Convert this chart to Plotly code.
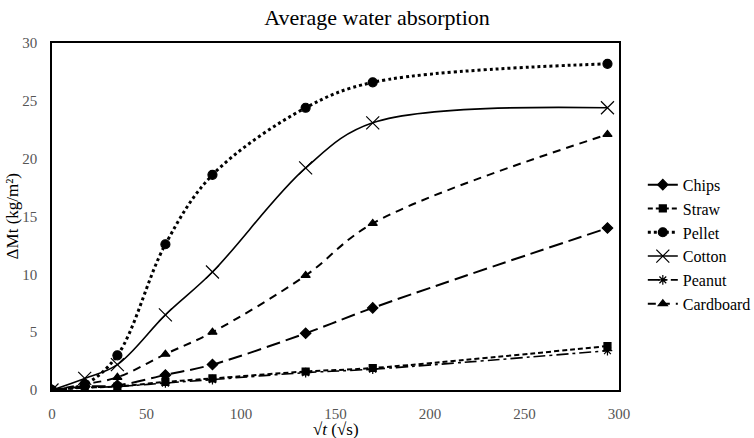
import plotly.graph_objects as go

x = [0, 17.3, 34.6, 60.0, 84.9, 134.2, 169.7, 293.9]
chips = [0, 0.3, 0.4, 1.3, 2.2, 4.9, 7.1, 14.0]
straw = [0, 0.2, 0.3, 0.7, 1.0, 1.6, 1.9, 3.8]
pellet = [0, 0.5, 3.0, 12.6, 18.6, 24.4, 26.6, 28.2]
cotton = [0, 1.0, 2.2, 6.5, 10.2, 19.2, 23.1, 24.4]
peanut = [0, 0.2, 0.3, 0.6, 0.9, 1.5, 1.8, 3.4]
cardboard = [0, 0.5, 1.1, 3.1, 5.0, 9.9, 14.4, 22.1]

series = [
    ("Chips", chips, "14px,6px", "diamond", 8, 2),
    ("Straw", straw, "5px,3px", "square", 7, 2),
    ("Pellet", pellet, "dot", "circle", 9, 3),
    ("Cotton", cotton, "solid", "x-thin-open", 13, 1.6),
    ("Peanut", peanut, "12px,4px,3px,4px", "asterisk-open", 8, 1.6),
    ("Cardboard", cardboard, "8px,6px", "triangle-up", 8, 2),
]

fig = go.Figure()
for name, ys, dash, sym, size, w in series:
    fig.add_trace(go.Scatter(
        x=x, y=ys, name=name, mode="lines+markers",
        line=dict(color="black", width=w, dash=dash, shape="spline", smoothing=1),
        marker=dict(symbol=sym, size=size, color="black",
                    line=dict(color="black", width=1.2)),
    ))

font = "Liberation Serif, Times New Roman, serif"
fig.update_layout(
    width=754, height=438,
    margin=dict(l=52, r=135, t=43, b=48, autoexpand=False),
    paper_bgcolor="white", plot_bgcolor="white",
    font=dict(family=font, color="black", size=14),
    title=dict(text="Average water absorption", x=0.5, xanchor="center",
               y=0.96, yanchor="middle", font=dict(size=22, family=font, color="black")),
    legend=dict(x=1.042, y=0.42, xanchor="left", yanchor="middle",
                font=dict(size=16, family=font), tracegroupgap=0, itemwidth=30),
    xaxis=dict(range=[0, 300], tickvals=[0, 50, 100, 150, 200, 250, 300],
               showgrid=False, zeroline=False, showline=True, linecolor="black",
               linewidth=1.5, mirror=True, ticks="", ticklabelstandoff=9,
               automargin=False,
               tickfont=dict(size=15, color="#555555", family=font)),
    yaxis=dict(range=[0, 30], tickvals=[0, 5, 10, 15, 20, 25, 30],
               showgrid=False, zeroline=False, showline=True, linecolor="black",
               linewidth=1.5, mirror=True, ticks="", ticklabelstandoff=10,
               automargin=False,
               tickfont=dict(size=15, color="#555555", family=font)),
    annotations=[
        dict(text="√<i>t</i> (√s)", xref="paper", yref="paper", x=0.5, y=-0.115,
             xanchor="center", yanchor="middle", showarrow=False,
             font=dict(size=17, family=font, color="black")),
        dict(text="ΔMt (kg/m²)", xref="paper", yref="paper", x=-0.069, y=0.5,
             xanchor="center", yanchor="middle", showarrow=False, textangle=-90,
             font=dict(size=17, family=font, color="black")),
    ],
)

fig.write_html("out.html")
